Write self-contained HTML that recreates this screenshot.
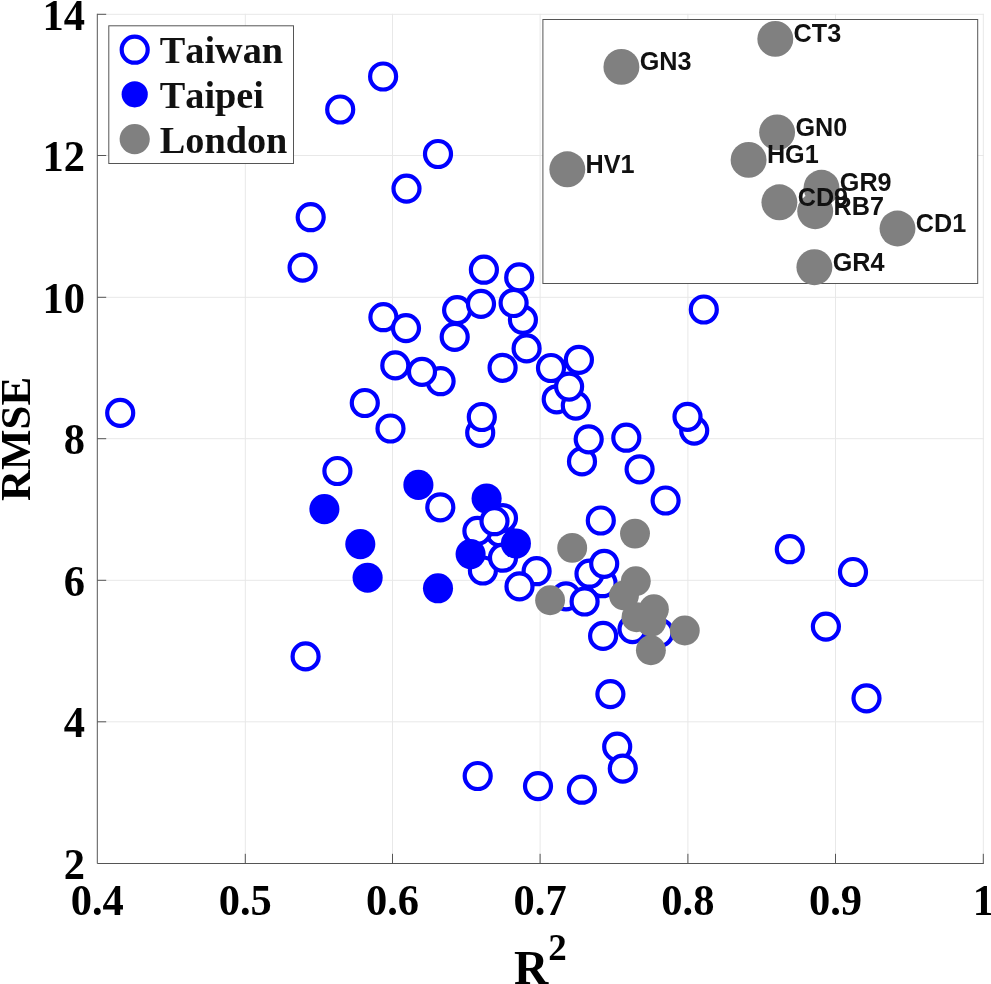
<!DOCTYPE html>
<html lang="en"><head><meta charset="utf-8"><title>RMSE vs R2 scatter</title>
<style>html,body{margin:0;padding:0;background:#fff;overflow:hidden}svg{display:block}.t{font-family:"Liberation Serif",serif;font-weight:bold;fill:#000;font-kerning:none}.s{font-family:"Liberation Sans",sans-serif;font-weight:bold;fill:#111;font-kerning:none}.o{fill:#fff;stroke:#0000ff;stroke-width:4.2}.f{fill:#0000ff}.g{fill:#808080}</style></head><body>
<svg width="991" height="984" viewBox="0 0 991 984">
<rect width="991" height="984" fill="#fff"/>
<g stroke="#e8e8e8" stroke-width="1" fill="none">
<line x1="245.3" y1="13.8" x2="245.3" y2="863.5"/>
<line x1="392.5" y1="13.8" x2="392.5" y2="863.5"/>
<line x1="540.1" y1="13.8" x2="540.1" y2="863.5"/>
<line x1="687.9" y1="13.8" x2="687.9" y2="863.5"/>
<line x1="835.5" y1="13.8" x2="835.5" y2="863.5"/>
<line x1="983.3" y1="13.8" x2="983.3" y2="863.5"/>
<line x1="97.3" y1="721.8" x2="983.8" y2="721.8"/>
<line x1="97.3" y1="580.3" x2="983.8" y2="580.3"/>
<line x1="97.3" y1="438.7" x2="983.8" y2="438.7"/>
<line x1="97.3" y1="297.3" x2="983.8" y2="297.3"/>
<line x1="97.3" y1="155.5" x2="983.8" y2="155.5"/>
<line x1="97.3" y1="14.3" x2="983.8" y2="14.3"/>
</g>
<g stroke="#555" stroke-width="1" fill="none">
<path d="M97.3 13.8V863.5H983.8"/>
<line x1="245.3" y1="863.5" x2="245.3" y2="853.8"/>
<line x1="392.5" y1="863.5" x2="392.5" y2="853.8"/>
<line x1="540.1" y1="863.5" x2="540.1" y2="853.8"/>
<line x1="687.9" y1="863.5" x2="687.9" y2="853.8"/>
<line x1="835.5" y1="863.5" x2="835.5" y2="853.8"/>
<line x1="983.3" y1="863.5" x2="983.3" y2="853.8"/>
<line x1="97.3" y1="721.8" x2="106.2" y2="721.8"/>
<line x1="97.3" y1="580.3" x2="106.2" y2="580.3"/>
<line x1="97.3" y1="438.7" x2="106.2" y2="438.7"/>
<line x1="97.3" y1="297.3" x2="106.2" y2="297.3"/>
<line x1="97.3" y1="155.5" x2="106.2" y2="155.5"/>
<line x1="97.3" y1="14.3" x2="106.2" y2="14.3"/>
</g>
<g>
<circle class="o" cx="383.1" cy="76.5" r="13"/>
<circle class="o" cx="340.2" cy="109.5" r="13"/>
<circle class="o" cx="438.0" cy="154.0" r="13"/>
<circle class="o" cx="406.5" cy="188.6" r="13"/>
<circle class="o" cx="310.7" cy="217.2" r="13"/>
<circle class="o" cx="302.6" cy="267.6" r="13"/>
<circle class="o" cx="483.9" cy="269.7" r="13"/>
<circle class="o" cx="519.2" cy="277.4" r="13"/>
<circle class="o" cx="457.1" cy="310.1" r="13"/>
<circle class="o" cx="481.0" cy="303.9" r="13"/>
<circle class="o" cx="522.9" cy="319.8" r="13"/>
<circle class="o" cx="513.6" cy="303.0" r="13"/>
<circle class="o" cx="383.4" cy="317.2" r="13"/>
<circle class="o" cx="406.0" cy="328.1" r="13"/>
<circle class="o" cx="454.7" cy="336.9" r="13"/>
<circle class="o" cx="526.6" cy="348.4" r="13"/>
<circle class="o" cx="395.3" cy="365.4" r="13"/>
<circle class="o" cx="440.6" cy="381.2" r="13"/>
<circle class="o" cx="422.0" cy="371.8" r="13"/>
<circle class="o" cx="502.6" cy="367.8" r="13"/>
<circle class="o" cx="551.0" cy="368.0" r="13"/>
<circle class="o" cx="578.9" cy="359.8" r="13"/>
<circle class="o" cx="556.7" cy="399.3" r="13"/>
<circle class="o" cx="575.8" cy="405.6" r="13"/>
<circle class="o" cx="569.1" cy="386.6" r="13"/>
<circle class="o" cx="364.8" cy="403.0" r="13"/>
<circle class="o" cx="390.5" cy="428.5" r="13"/>
<circle class="o" cx="480.2" cy="432.8" r="13"/>
<circle class="o" cx="481.8" cy="417.0" r="13"/>
<circle class="o" cx="582.0" cy="461.4" r="13"/>
<circle class="o" cx="588.7" cy="439.3" r="13"/>
<circle class="o" cx="626.3" cy="437.7" r="13"/>
<circle class="o" cx="639.6" cy="469.3" r="13"/>
<circle class="o" cx="694.2" cy="430.6" r="13"/>
<circle class="o" cx="687.5" cy="416.8" r="13"/>
<circle class="o" cx="703.8" cy="309.5" r="13"/>
<circle class="o" cx="120.2" cy="412.9" r="13"/>
<circle class="o" cx="337.4" cy="471.0" r="13"/>
<circle class="o" cx="440.3" cy="507.3" r="13"/>
<circle class="o" cx="305.6" cy="656.4" r="13"/>
<circle class="f" cx="324.4" cy="509.1" r="15.05"/>
<circle class="f" cx="360.3" cy="544.1" r="15.05"/>
<circle class="f" cx="367.6" cy="577.7" r="15.05"/>
<circle class="f" cx="418.4" cy="484.9" r="15.05"/>
<circle class="f" cx="438.0" cy="588.3" r="15.05"/>
<circle class="o" cx="500.0" cy="532.3" r="13"/>
<circle class="o" cx="503.0" cy="518.1" r="13"/>
<circle class="o" cx="477.4" cy="530.9" r="13"/>
<circle class="f" cx="486.6" cy="498.5" r="15.05"/>
<circle class="o" cx="494.5" cy="521.2" r="13"/>
<circle class="o" cx="482.9" cy="570.5" r="13"/>
<circle class="o" cx="503.0" cy="557.7" r="13"/>
<circle class="f" cx="470.6" cy="554.1" r="15.05"/>
<circle class="f" cx="515.9" cy="543.5" r="15.05"/>
<circle class="o" cx="536.6" cy="571.2" r="13"/>
<circle class="o" cx="519.5" cy="586.4" r="13"/>
<circle class="o" cx="665.6" cy="500.5" r="13"/>
<circle class="o" cx="600.8" cy="520.5" r="13"/>
<circle class="o" cx="602.6" cy="583.2" r="13"/>
<circle class="o" cx="589.5" cy="573.7" r="13"/>
<circle class="o" cx="604.2" cy="563.8" r="13"/>
<circle class="o" cx="566.0" cy="596.3" r="13"/>
<circle class="o" cx="584.6" cy="601.5" r="13"/>
<circle class="o" cx="603.1" cy="635.9" r="13"/>
<circle class="o" cx="632.5" cy="629.1" r="13"/>
<circle class="o" cx="659.5" cy="632.8" r="13"/>
<circle class="o" cx="789.8" cy="549.2" r="13"/>
<circle class="o" cx="853.0" cy="572.0" r="13"/>
<circle class="o" cx="825.9" cy="626.6" r="13"/>
<circle class="o" cx="866.5" cy="698.3" r="13"/>
<circle class="o" cx="610.4" cy="694.1" r="13"/>
<circle class="o" cx="617.2" cy="746.7" r="13"/>
<circle class="o" cx="622.8" cy="768.6" r="13"/>
<circle class="o" cx="477.7" cy="776.0" r="13"/>
<circle class="o" cx="538.0" cy="786.1" r="13"/>
<circle class="o" cx="581.9" cy="789.7" r="13"/>
<circle class="g" cx="572.2" cy="547.9" r="14.95"/>
<circle class="g" cx="635.0" cy="533.6" r="14.95"/>
<circle class="g" cx="550.1" cy="600.3" r="14.95"/>
<circle class="g" cx="635.8" cy="581.2" r="14.95"/>
<circle class="g" cx="624.0" cy="595.5" r="14.95"/>
<circle class="g" cx="653.9" cy="609.3" r="14.95"/>
<circle class="g" cx="636.5" cy="617.3" r="14.95"/>
<circle class="g" cx="651.3" cy="621.6" r="14.95"/>
<circle class="g" cx="684.8" cy="630.5" r="14.95"/>
<circle class="g" cx="650.9" cy="650.3" r="14.95"/>
</g>
<g class="t" font-size="42.5" text-anchor="middle">
<text transform="translate(97.3 914.9) scale(1 1.03)">0.4</text>
<text transform="translate(245.3 914.9) scale(1 1.03)">0.5</text>
<text transform="translate(392.5 914.9) scale(1 1.03)">0.6</text>
<text transform="translate(540.1 914.9) scale(1 1.03)">0.7</text>
<text transform="translate(687.9 914.9) scale(1 1.03)">0.8</text>
<text transform="translate(835.5 914.9) scale(1 1.03)">0.9</text>
<text transform="translate(983.3 914.9) scale(1 1.03)">1</text>
</g>
<g class="t" font-size="42.5" text-anchor="end">
<text transform="translate(84.9 878.8) scale(1 1.03)">2</text>
<text transform="translate(84.9 737.1) scale(1 1.03)">4</text>
<text transform="translate(84.9 595.6) scale(1 1.03)">6</text>
<text transform="translate(84.9 454.0) scale(1 1.03)">8</text>
<text transform="translate(84.9 312.6) scale(1 1.03)">10</text>
<text transform="translate(84.9 170.8) scale(1 1.03)">12</text>
<text transform="translate(84.9 29.6) scale(1 1.03)">14</text>
</g>
<text class="t" font-size="47.5" x="513.9" y="983.8">R<tspan font-size="37" dy="-23.6">2</tspan></text>
<text class="t" font-size="43" text-anchor="middle" transform="translate(30.4 439) rotate(-90)">RMSE</text>
<rect x="108.8" y="25.8" width="184.7" height="137.7" fill="#fff" stroke="#555" stroke-width="1"/>
<circle class="o" cx="134.7" cy="49.7" r="13"/>
<circle class="f" cx="134.7" cy="94.3" r="13.1"/>
<circle class="g" cx="134.7" cy="139.1" r="15.1"/>
<g class="t" font-size="38.25" style="fill:#111">
<text x="159.8" y="63.4">Taiwan</text><text x="159.8" y="108.2">Taipei</text><text x="159.8" y="152.6">London</text>
</g>
<rect x="542.9" y="19.5" width="434.8" height="264" fill="#fff" stroke="#555" stroke-width="1"/>
<g>
<circle class="g" cx="775.3" cy="38.9" r="17.95"/>
<circle class="g" cx="621.4" cy="66.9" r="17.95"/>
<circle class="g" cx="777.1" cy="132.4" r="17.95"/>
<circle class="g" cx="748.6" cy="159.9" r="17.95"/>
<circle class="g" cx="567.3" cy="169.3" r="17.95"/>
<circle class="g" cx="821.5" cy="187.8" r="17.95"/>
<circle class="g" cx="779.4" cy="202.3" r="17.95"/>
<circle class="g" cx="815.2" cy="211.2" r="17.95"/>
<circle class="g" cx="897.5" cy="228.5" r="17.95"/>
<circle class="g" cx="814.4" cy="267.2" r="17.95"/>
</g>
<g class="s" font-size="25.2">
<text x="793.6" y="42.2">CT3</text>
<text x="639.7" y="70.2">GN3</text>
<text x="795.4" y="135.7">GN0</text>
<text x="766.9" y="163.2">HG1</text>
<text x="585.6" y="172.6">HV1</text>
<text x="839.8" y="191.1">GR9</text>
<text x="797.7" y="205.6">CD9</text>
<text x="833.5" y="214.5">RB7</text>
<text x="915.8" y="231.8">CD1</text>
<text x="832.7" y="270.5">GR4</text>
</g>
</svg></body></html>
